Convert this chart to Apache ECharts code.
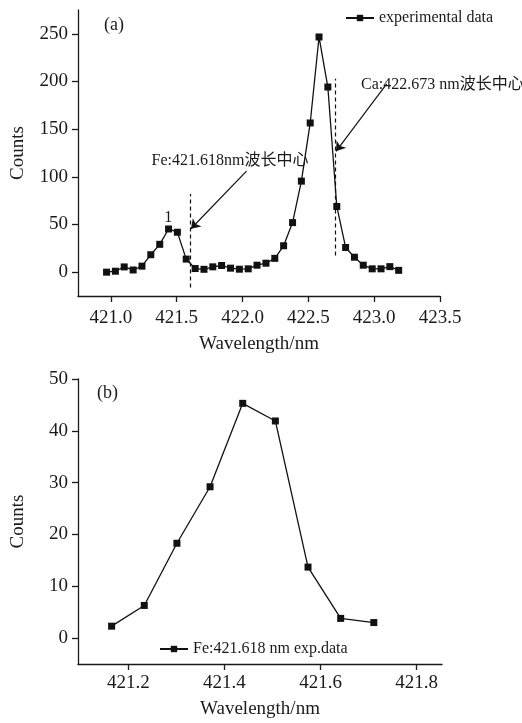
<!DOCTYPE html>
<html>
<head>
<meta charset="utf-8">
<script src="https://cdn.jsdelivr.net/npm/echarts@6/dist/echarts.min.js"></script>
<style>
  html, body { margin: 0; padding: 0; background: #fff; }
  #chart { width: 522px; height: 723px; }
</style>
</head>
<body>
<div id="chart"></div>
<script>
// panel (a): full spectrum
const wavelengthA = [
  420.967, 421.034, 421.101, 421.169, 421.236, 421.303, 421.371, 421.438, 421.505, 421.572,
  421.640, 421.707, 421.774, 421.841, 421.909, 421.976, 422.043, 422.110, 422.178, 422.245,
  422.312, 422.380, 422.447, 422.514, 422.581, 422.648, 422.716, 422.783, 422.850, 422.917,
  422.985, 423.052, 423.119, 423.186
];
const countsA = [
  0, 1, 5.5, 2.3, 6.3, 18.3, 29.2, 45.3, 41.9, 13.7,
  3.8, 3.0, 5.6, 7.0, 4.2, 3.1, 3.5, 7.3, 9.4, 14.5,
  27.7, 52, 95.5, 156.5, 246.7, 194.2, 68.9, 25.9, 15.7, 7.3,
  3.5, 3.5, 5.8, 1.9
];
// panel (b): Fe peak close-up
const wavelengthB = [421.165, 421.233, 421.301, 421.370, 421.438, 421.506, 421.574, 421.642, 421.711];
const countsB = [2.3, 6.3, 18.3, 29.2, 45.3, 41.9, 13.7, 3.8, 3.0];

const xTicksA = [421.0, 421.5, 422.0, 422.5, 423.0, 423.5];
const yTicksA = [0, 50, 100, 150, 200, 250];
const xTicksB = [421.2, 421.4, 421.6, 421.8];
const yTicksB = [0, 10, 20, 30, 40, 50];

// annotation anchors (data coords)
const feCenterLine = [[421.6, -16], [421.6, 82]];
const caCenterLine = [[422.702, 17.5], [422.702, 203]];
const feArrow = [[422.03, 106], [421.608, 45.5]];
const caArrow = [[423.095, 197.5], [422.71, 126.8]];
const feLabelAt = [421.309, 116.4];
const caLabelAt = [422.9, 196.7];
const peakLabelAt = [421.435, 57.3];

const SERIF = "'Liberation Serif', 'Times New Roman', 'Noto Sans CJK SC', serif";
const INK = '#1a1a1a';

function xAxisCfg(gridIndex, min, max, ticks, labelMargin, nameGap) {
  return {
    type: 'value', gridIndex, min, max,
    name: 'Wavelength/nm', nameLocation: 'middle', nameGap,
    nameTextStyle: { fontFamily: SERIF, fontSize: 19, color: INK },
    axisLine: { onZero: false, lineStyle: { color: INK, width: 1.3 } },
    axisTick: { show: true, length: 6, customValues: ticks, lineStyle: { color: INK, width: 1.3 } },
    axisLabel: { customValues: ticks, margin: labelMargin, fontFamily: SERIF, fontSize: 19, color: INK,
      formatter: v => v.toFixed(1) },
    splitLine: { show: false }
  };
}

function yAxisCfg(gridIndex, min, max, ticks) {
  return {
    type: 'value', gridIndex, min, max,
    name: 'Counts', nameLocation: 'middle', nameRotate: 90, nameGap: 50,
    nameTextStyle: { fontFamily: SERIF, fontSize: 19, color: INK },
    axisLine: { show: true, onZero: false, lineStyle: { color: INK, width: 1.3 } },
    axisTick: { show: true, length: 6, customValues: ticks, lineStyle: { color: INK, width: 1.3 } },
    axisLabel: { customValues: ticks, margin: 10, fontFamily: SERIF, fontSize: 19, color: INK },
    splitLine: { show: false }
  };
}

function textPoint(coord, text, pos) {
  return {
    coord, symbol: 'circle', symbolSize: 0,
    label: { show: true, formatter: text, position: pos, distance: 0,
      fontFamily: SERIF, fontSize: 16, color: INK }
  };
}

const chart = echarts.init(document.getElementById('chart'));
chart.setOption({
  animation: false,
  backgroundColor: '#fff',
  grid: [
    { left: 78, right: 82, top: 10, height: 286 },
    { left: 78, right: 80, top: 379, height: 285 }
  ],
  graphic: [
    { type: 'text', left: 104, top: 16, style: { text: '(a)', font: '18px ' + SERIF, fill: INK } },
    { type: 'text', left: 97, top: 384, style: { text: '(b)', font: '18px ' + SERIF, fill: INK } }
  ],
  legend: [
    { data: ['experimental data'], left: 340, top: 5, itemWidth: 28, itemHeight: 8,
      textStyle: { fontFamily: SERIF, fontSize: 16, color: INK } },
    { data: ['Fe:421.618 nm exp.data'], left: 154, top: 636, itemWidth: 28, itemHeight: 8,
      textStyle: { fontFamily: SERIF, fontSize: 16, color: INK } }
  ],
  xAxis: [
    xAxisCfg(0, 420.75, 423.5, xTicksA, 13, 39),
    xAxisCfg(1, 421.095, 421.853, xTicksB, 10, 36)
  ],
  yAxis: [
    yAxisCfg(0, -25, 275, yTicksA),
    yAxisCfg(1, -5, 50, yTicksB)
  ],
  series: [
    {
      name: 'experimental data', type: 'line', xAxisIndex: 0, yAxisIndex: 0,
      data: wavelengthA.map((w, i) => [w, countsA[i]]),
      symbol: 'rect', symbolSize: 7, showAllSymbol: true,
      itemStyle: { color: '#111' }, lineStyle: { color: '#111', width: 1.3 },
      markLine: {
        silent: true, symbol: 'none', label: { show: false },
        lineStyle: { color: '#111', type: [4, 3], width: 1.2 },
        data: [
          [{ coord: feCenterLine[0] }, { coord: feCenterLine[1] }],
          [{ coord: caCenterLine[0] }, { coord: caCenterLine[1] }]
        ]
      },
      markPoint: {
        silent: true,
        data: [
          textPoint(peakLabelAt, '1', 'inside'),
          textPoint(feLabelAt, 'Fe:421.618nm波长中心', 'right'),
          textPoint(caLabelAt, 'Ca:422.673 nm波长中心', 'right')
        ]
      }
    },
    {
      name: 'arrows', type: 'line', xAxisIndex: 0, yAxisIndex: 0, data: [],
      markLine: {
        silent: true, symbol: ['none', 'arrow'], symbolSize: 9, label: { show: false },
        itemStyle: { color: '#111' },
        lineStyle: { color: '#111', type: 'solid', width: 1.2 },
        data: [
          [{ coord: feArrow[0] }, { coord: feArrow[1] }],
          [{ coord: caArrow[0] }, { coord: caArrow[1] }]
        ]
      }
    },
    {
      name: 'Fe:421.618 nm exp.data', type: 'line', xAxisIndex: 1, yAxisIndex: 1,
      data: wavelengthB.map((w, i) => [w, countsB[i]]),
      symbol: 'rect', symbolSize: 7, showAllSymbol: true,
      itemStyle: { color: '#111' }, lineStyle: { color: '#111', width: 1.3 }
    }
  ]
});
</script>
</body>
</html>
